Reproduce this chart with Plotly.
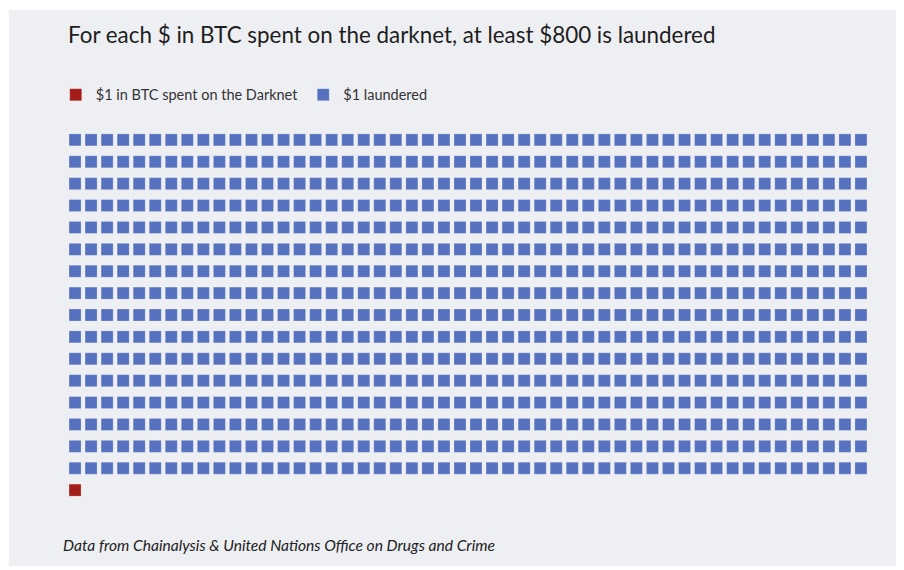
import plotly.graph_objects as go

# waffle: one square = $1
categorias = ['$1 laundered', '$1 in BTC spent on the Darknet']
cantidades = [800, 1]
colores = ['#5672bf', '#a51d19']
columnas = 50

titulo = 'For each $ in BTC spent on the darknet, at least $800 is laundered'
fuente = 'Data from Chainalysis & United Nations Office on Drugs and Crime'

fig = go.Figure()

inicio = 0
for cat, n, col in zip(categorias, cantidades, colores):
    idx = list(range(inicio, inicio + n))
    fig.add_trace(go.Scatter(
        x=[i % columnas for i in idx],
        y=[i // columnas for i in idx],
        mode='markers',
        name=cat,
        marker=dict(symbol='square', size=12, color=col,
                    line=dict(width=0.6, color='rgba(255,255,255,0.35)')),
        hoverinfo='skip'
    ))
    inicio += n

# orden de la leyenda: rojo primero
fig.data = (fig.data[1], fig.data[0])

filas = (sum(cantidades) - 1) // columnas + 1

# fondo gris del panel
fig.add_shape(type='rect', xref='paper', yref='paper',
              x0=-0.0611, x1=1.0257, y0=-0.137, y1=1.274,
              fillcolor='#eeeff3', line=dict(width=0), layer='below')

fig.add_annotation(text=titulo, xref='paper', yref='paper',
                   x=0.0085, y=1.212, xanchor='left', yanchor='middle',
                   showarrow=False, font=dict(size=22.4, color='#1e1e1e'))
fig.add_annotation(text='<i>' + fuente + '</i>', xref='paper', yref='paper',
                   x=0.0026, y=-0.085, xanchor='left', yanchor='middle',
                   showarrow=False, font=dict(size=15.6, color='#222222'))

# la pagina tiene 8px de margen en el body, por eso 896x562
fig.update_layout(
    width=896, height=562,
    margin=dict(l=51, r=27, t=110, b=58),
    paper_bgcolor='white',
    plot_bgcolor='rgba(0,0,0,0)',
    font=dict(family='Lato, sans-serif', color='#333333'),
    showlegend=True,
    legend=dict(orientation='h', x=-0.004, y=1.059, xanchor='left', yanchor='middle',
                bgcolor='rgba(0,0,0,0)', font=dict(size=14.5, color='#333333'),
                itemwidth=30, traceorder='normal'),
    xaxis=dict(range=[-1, columnas], visible=False, fixedrange=True),
    yaxis=dict(range=[filas, -1], visible=False, fixedrange=True),
)

fig.write_html('out.html')
